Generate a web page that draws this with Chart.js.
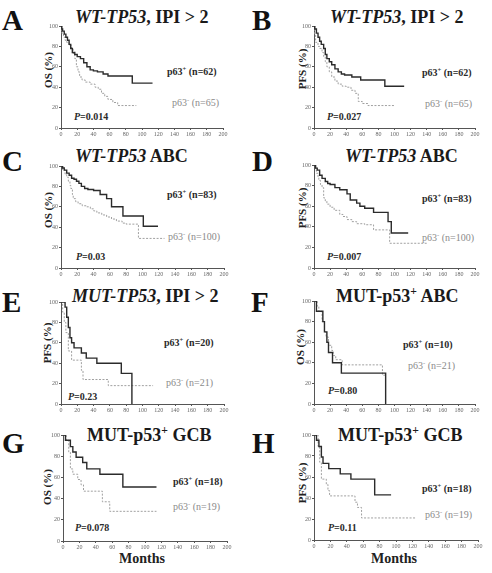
<!DOCTYPE html>
<html lang="en">
<head>
<meta charset="UTF-8">
<title>p63 survival curves</title>
<script src="https://cdn.jsdelivr.net/npm/chart.js"></script>
<style>
    body { margin: 0; background: #fff; }
    #fig { position: relative; width: 492px; height: 573px; overflow: hidden; font-family: "Liberation Serif", "Times New Roman", serif; }
    #fig canvas { position: absolute; }
    .t { position: absolute; white-space: nowrap; line-height: 1; transform: translateY(-50%); }
    .letter { font-size: 29px; font-weight: bold; color: #111; }
    .title { font-size: 18px; font-weight: bold; color: #1a1a1a; }
    .pos { font-size: 10px; font-weight: bold; color: #2a2a2a; }
    .neg { font-size: 10px; color: #8a8a8a; }
    .pv { font-size: 10px; font-weight: bold; color: #2a2a2a; }
    .yt { position: absolute; white-space: nowrap; line-height: 1; font-size: 11px; font-weight: bold; color: #222; transform: translate(-50%, -50%) rotate(-90deg); }
    .xt { position: absolute; white-space: nowrap; line-height: 1; font-size: 14px; font-weight: bold; color: #222; transform: translate(-50%, -50%); }
    sup { font-size: 65%; line-height: 0; }
</style>
</head>
<body>
<div id="fig">
    <div class="t letter" style="left:2px;top:20px">A</div>
    <div class="t letter" style="left:252px;top:20px">B</div>
    <div class="t letter" style="left:2px;top:161px">C</div>
    <div class="t letter" style="left:252px;top:161px">D</div>
    <div class="t letter" style="left:2px;top:302px">E</div>
    <div class="t letter" style="left:251px;top:302px">F</div>
    <div class="t letter" style="left:2px;top:443px">G</div>
    <div class="t letter" style="left:252px;top:443px">H</div>

    <div class="t title" style="left:75px;top:17px"><i>WT-TP53</i>, IPI &gt; 2</div>
    <div class="t title" style="left:330px;top:17px"><i>WT-TP53</i>, IPI &gt; 2</div>
    <div class="t title" style="left:75px;top:156px"><i>WT-TP53</i> ABC</div>
    <div class="t title" style="left:345px;top:156px"><i>WT-TP53</i> ABC</div>
    <div class="t title" style="left:72px;top:296px"><i>MUT-TP53</i>, IPI &gt; 2</div>
    <div class="t title" style="left:336px;top:296px">MUT-p53<sup>+</sup> ABC</div>
    <div class="t title" style="left:87px;top:435px">MUT-p53<sup>+</sup> GCB</div>
    <div class="t title" style="left:338px;top:435px">MUT-p53<sup>+</sup> GCB</div>

    <div class="yt" style="left:48px;top:70px">OS (%)</div>
    <div class="yt" style="left:302px;top:69px">PFS (%)</div>
    <div class="yt" style="left:48px;top:210px">OS (%)</div>
    <div class="yt" style="left:302px;top:208px">PFS (%)</div>
    <div class="yt" style="left:47px;top:343px">PFS (%)</div>
    <div class="yt" style="left:300px;top:347px">OS (%)</div>
    <div class="yt" style="left:47px;top:487px">OS (%)</div>
    <div class="yt" style="left:302px;top:483px">PFS (%)</div>

    <div class="xt" style="left:142px;top:559px">Months</div>
    <div class="xt" style="left:394px;top:559px">Months</div>

    <div class="t pos" style="left:167px;top:72px">p63<sup>+</sup> (n=62)</div>
    <div class="t neg" style="left:172px;top:103px">p63<sup>-</sup> (n=65)</div>
    <div class="t pv" style="left:74px;top:117px"><i>P</i>=0.014</div>

    <div class="t pos" style="left:422px;top:73px">p63<sup>+</sup> (n=62)</div>
    <div class="t neg" style="left:425px;top:104px">p63<sup>-</sup> (n=65)</div>
    <div class="t pv" style="left:327px;top:117px"><i>P</i>=0.027</div>

    <div class="t pos" style="left:167px;top:195px">p63<sup>+</sup> (n=83)</div>
    <div class="t neg" style="left:168px;top:237px">p63<sup>-</sup> (n=100)</div>
    <div class="t pv" style="left:76px;top:257px"><i>P</i>=0.03</div>

    <div class="t pos" style="left:422px;top:199px">p63<sup>+</sup> (n=83)</div>
    <div class="t neg" style="left:422px;top:238px">p63<sup>-</sup> (n=100)</div>
    <div class="t pv" style="left:327px;top:257px"><i>P</i>=0.007</div>

    <div class="t pos" style="left:164px;top:343px">p63<sup>+</sup> (n=20)</div>
    <div class="t neg" style="left:166px;top:383px">p63<sup>-</sup> (n=21)</div>
    <div class="t pv" style="left:68px;top:397px"><i>P</i>=0.23</div>

    <div class="t pos" style="left:403px;top:345px">p63<sup>+</sup> (n=10)</div>
    <div class="t neg" style="left:408px;top:366px">p63<sup>-</sup> (n=21)</div>
    <div class="t pv" style="left:328px;top:391px"><i>P</i>=0.80</div>

    <div class="t pos" style="left:173px;top:482px">p63<sup>+</sup> (n=18)</div>
    <div class="t neg" style="left:173px;top:507px">p63<sup>-</sup> (n=19)</div>
    <div class="t pv" style="left:75px;top:528px"><i>P</i>=0.078</div>

    <div class="t pos" style="left:422px;top:489px">p63<sup>+</sup> (n=18)</div>
    <div class="t neg" style="left:425px;top:515px">p63<sup>-</sup> (n=19)</div>
    <div class="t pv" style="left:328px;top:528px"><i>P</i>=0.11</div>
</div>

<script>
    // months / survival (%)
    const A_pos_t = [0, 1, 2, 4, 6, 8, 10, 12, 14, 17, 20, 24, 28, 32, 36, 40, 45, 52, 58, 88, 113];
    const A_pos_s = [100, 97, 95, 92, 89, 86, 82, 78, 74, 72, 70, 68, 64, 60, 57, 56, 55, 53, 51, 44, 44];
    const A_neg_t = [0, 1, 3, 5, 7, 10, 13, 15, 17, 19, 21, 23, 26, 30, 36, 42, 46, 50, 54, 58, 64, 70, 93];
    const A_neg_s = [100, 93, 89, 86, 84, 81, 78, 73, 68, 60, 55, 50, 47, 45, 43, 40, 38, 34, 31, 28, 25, 22, 22];

    const B_pos_t = [0, 1, 3, 5, 7, 9, 12, 14, 16, 19, 22, 26, 30, 34, 38, 47, 58, 88, 112];
    const B_pos_s = [100, 97, 93, 89, 85, 82, 78, 72, 68, 65, 62, 58, 55, 53, 52, 50, 47, 41, 41];
    const B_neg_t = [0, 1, 2, 5, 7, 10, 12, 14, 16, 19, 22, 26, 30, 35, 40, 46, 51, 55, 60, 67, 100];
    const B_neg_s = [100, 92, 84, 80, 78, 74, 70, 65, 60, 55, 50, 46, 43, 41, 40, 37, 34, 26, 24, 22, 22];

    const C_pos_t = [0, 2, 4, 7, 10, 13, 16, 19, 22, 25, 29, 33, 40, 48, 56, 62, 76, 101, 119];
    const C_pos_s = [100, 98, 96, 93, 91, 88, 87, 85, 83, 80, 78, 77, 76, 72, 68, 60, 51, 41, 41];
    const C_neg_t = [0, 2, 5, 7, 9, 11, 12, 14, 15, 18, 21, 26, 31, 36, 40, 44, 50, 56, 62, 68, 75, 80, 95, 127];
    const C_neg_s = [100, 96, 92, 89, 85, 81, 78, 72, 68, 65, 63, 61, 60, 58, 56, 54, 52, 50, 48, 46, 44, 43, 29, 29];

    const D_pos_t = [0, 2, 4, 7, 10, 14, 17, 20, 26, 32, 41, 45, 53, 57, 63, 74, 92, 96, 117];
    const D_pos_s = [100, 97, 95, 90, 87, 84, 82, 81, 78, 76, 72, 66, 63, 60, 58, 54, 45, 34, 34];
    const D_neg_t = [0, 2, 3, 5, 6, 8, 10, 12, 14, 16, 20, 25, 32, 36, 41, 47, 53, 63, 74, 94, 140];
    const D_neg_s = [100, 95, 92, 88, 85, 81, 78, 68, 65, 62, 59, 56, 52, 50, 47, 45, 43, 42, 37, 24, 24];

    const E_pos_t = [0, 5, 7, 9, 11, 13, 16, 25, 31, 44, 74, 87];
    const E_pos_s = [100, 95, 85, 75, 65, 60, 55, 50, 45, 40, 30, 0];
    const E_neg_t = [0, 2, 4, 6, 9, 13, 25, 27, 58, 113];
    const E_neg_s = [100, 90, 80, 70, 52, 43, 33, 24, 18, 18];

    const F_pos_t = [0, 3, 11, 13, 16, 18, 23, 34, 89];
    const F_pos_s = [100, 90, 80, 70, 60, 50, 40, 30, 0];
    const F_neg_t = [0, 4, 6, 10, 13, 15, 18, 22, 24, 27, 35, 85, 90];
    const F_neg_s = [100, 95, 90, 80, 70, 65, 57, 52, 47, 43, 38, 28, 28];

    const G_pos_t = [0, 3, 9, 12, 16, 24, 29, 45, 73, 114];
    const G_pos_s = [100, 95, 89, 84, 79, 74, 68, 63, 51, 51];
    const G_neg_t = [0, 4, 7, 9, 12, 18, 22, 25, 48, 57, 114];
    const G_neg_s = [100, 95, 84, 68, 63, 58, 53, 47, 37, 28, 28];

    const H_pos_t = [0, 3, 6, 9, 11, 18, 32, 45, 74, 94];
    const H_pos_s = [100, 95, 89, 79, 73, 68, 63, 58, 43, 43];
    const H_neg_t = [0, 5, 7, 9, 15, 17, 19, 50, 53, 58, 125];
    const H_neg_s = [100, 89, 74, 58, 53, 47, 42, 36, 31, 21, 21];

    const monthsMax = 200, monthsStep = 20;
    const pctMax = 100, pctStep = 20;

    // plot boxes on the page: left, top, right, bottom
    const panels = [
        { box: [61, 26, 223, 128], pos: [A_pos_t, A_pos_s], neg: [A_neg_t, A_neg_s] },
        { box: [314, 26, 475, 128], pos: [B_pos_t, B_pos_s], neg: [B_neg_t, B_neg_s] },
        { box: [61, 166, 224, 268], pos: [C_pos_t, C_pos_s], neg: [C_neg_t, C_neg_s] },
        { box: [314, 165, 475, 268], pos: [D_pos_t, D_pos_s], neg: [D_neg_t, D_neg_s] },
        { box: [61, 302, 224, 404], pos: [E_pos_t, E_pos_s], neg: [E_neg_t, E_neg_s] },
        { box: [314, 301, 475, 404], pos: [F_pos_t, F_pos_s], neg: [F_neg_t, F_neg_s] },
        { box: [63, 435, 227, 541], pos: [G_pos_t, G_pos_s], neg: [G_neg_t, G_neg_s] },
        { box: [314, 435, 478, 540], pos: [H_pos_t, H_pos_s], neg: [H_neg_t, H_neg_s] }
    ];

    const ml = 20, mt = 6, mr = 9, mb = 14;
    const tickFont = { family: '"Liberation Serif", "Times New Roman", serif', size: 6 };
    const axisColor = '#555';

    const pts = (t, s) => t.map((v, i) => ({ x: v, y: s[i] }));

    const fig = document.getElementById('fig');
    panels.forEach(p => {
        const [a, c, b, d] = p.box;
        const cv = document.createElement('canvas');
        const W = ml + (b - a) + mr, H = mt + (d - c) + mb;
        cv.width = W; cv.height = H;
        cv.style.left = (a - ml) + 'px';
        cv.style.top = (c - mt) + 'px';
        cv.style.width = W + 'px';
        cv.style.height = H + 'px';
        fig.appendChild(cv);

        new Chart(cv, {
            type: 'line',
            data: {
                datasets: [
                    { data: pts(p.pos[0], p.pos[1]), borderColor: '#2b2b2b', borderWidth: 1.4, stepped: true, pointRadius: 0, fill: false },
                    { data: pts(p.neg[0], p.neg[1]), borderColor: '#a0a0a0', borderWidth: 1, borderDash: [2, 1.5], stepped: true, pointRadius: 0, fill: false }
                ]
            },
            options: {
                responsive: false,
                animation: false,
                events: [],
                layout: { padding: { left: 0, top: mt, right: mr, bottom: 0 } },
                plugins: { legend: { display: false }, tooltip: { enabled: false } },
                scales: {
                    x: {
                        type: 'linear', min: 0, max: monthsMax,
                        ticks: { stepSize: monthsStep, font: tickFont, color: '#666', padding: 1, maxRotation: 0, autoSkip: false },
                        grid: { drawOnChartArea: false, tickLength: 2, color: axisColor },
                        border: { color: axisColor, width: 1 },
                        afterFit(s) { s.height = mb; }
                    },
                    y: {
                        min: 0, max: pctMax,
                        ticks: { stepSize: pctStep, font: tickFont, color: '#666', padding: 1 },
                        grid: { drawOnChartArea: false, tickLength: 2, color: axisColor },
                        border: { color: axisColor, width: 1 },
                        afterFit(s) { s.width = ml; }
                    }
                }
            }
        });
    });
</script>
</body>
</html>
